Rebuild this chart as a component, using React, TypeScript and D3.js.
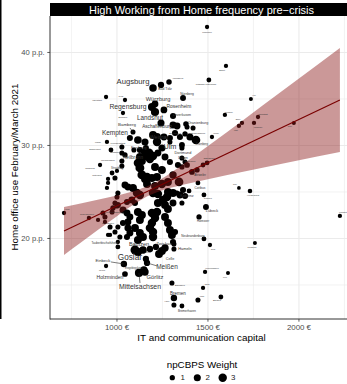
import React from "react";
import * as d3 from "d3";

// ---------- data ----------
// [region, IT and communication capital (€), home office use (p.p.), npCBPS weight]
const labelledRegions: [string, number, number, number][] = [
  ["München", 1495, 42.74, 0.6],
  ["Erfurt", 1599, 38.55, 0.6],
  ["Potsdam-Mittelmark", 1505, 37.04, 0.8],
  ["Landsberg", 1286, 36.83, 1.1],
  ["Augsburg", 1198, 36.18, 2.3],
  ["Bad Tölz", 1242, 36.51, 1.5],
  ["Ingolstadt", 940, 35.21, 0.6],
  ["Jena", 1044, 34.89, 0.6],
  ["Nürnberg", 1363, 35.11, 1.3],
  ["Würzburg", 1209, 34.46, 1.8],
  ["Regensburg", 1192, 34.14, 2.6],
  ["Rosenheim", 1258, 33.82, 1.8],
  ["Erlangen", 1033, 33.49, 0.6],
  ["Leverkusen", 1308, 33.17, 1.4],
  ["Landshut", 1242, 32.42, 2.0],
  ["Hof", 1736, 35.0, 0.5],
  ["Dresden", 1593, 33.28, 0.6],
  ["Darmstadt", 1775, 33.06, 0.6],
  ["Bonn", 1687, 32.42, 0.6],
  ["Köln", 1670, 32.1, 0.6],
  ["Karlsruhe", 1753, 32.42, 0.6],
  ["Trier", 1972, 32.42, 0.5],
  ["Oranienburg", 1379, 32.31, 1.1],
  ["Aschaffenburg", 1308, 32.2, 1.9],
  ["Bamberg", 1088, 31.45, 0.9],
  ["Kempten", 1115, 30.59, 2.4],
  ["Weimar", 1220, 30.38, 3.0],
  ["Ulm", 1247, 29.73, 2.0],
  ["Dortmund", 1357, 30.05, 1.3],
  ["Freiburg", 1093, 29.51, 0.9],
  ["Heilbronn", 1044, 28.98, 1.0],
  ["Lindau", 945, 30.38, 0.6],
  ["Freudenstadt", 1027, 29.84, 0.9],
  ["Schweinfurt", 967, 29.51, 0.8],
  ["Passau", 1027, 29.19, 0.9],
  ["Memmingen", 1027, 28.33, 0.9],
  ["Günzburg", 907, 27.9, 0.6],
  ["Straubing", 973, 27.04, 0.8],
  ["Gütersloh", 951, 26.4, 0.6],
  ["Düren", 1374, 28.22, 0.9],
  ["Cottbus", 1445, 25.97, 0.8],
  ["Plauen", 1478, 24.68, 0.8],
  ["Koblenz", 1330, 24.89, 0.9],
  ["Lübeck", 1489, 23.39, 1.3],
  ["Hannover", 1451, 22.31, 1.0],
  ["Suhl", 1670, 25.43, 0.4],
  ["Heidelberg", 1731, 25.11, 0.7],
  ["Frankfurt", 2225, 22.42, 0.6],
  ["Herne", 709, 22.74, 0.6],
  ["Gelsenkirchen", 846, 22.2, 0.6],
  ["Recklinghausen", 978, 23.28, 1.0],
  ["Oberhausen", 962, 21.24, 0.9],
  ["Neubrandenburg", 1478, 19.95, 0.8],
  ["Gera", 1511, 19.3, 0.6],
  ["Flensburg", 1758, 19.52, 0.5],
  ["Tauberbischofsheim", 1005, 19.09, 0.8],
  ["Bautzen", 1099, 18.76, 3.4],
  ["Zwickau", 1264, 18.98, 2.2],
  ["Hameln", 1313, 18.87, 0.9],
  ["Celle", 1231, 18.33, 2.6],
  ["Peine", 1181, 18.87, 1.6],
  ["Goslar", 1159, 17.8, 1.5],
  ["Meißen", 1165, 17.37, 1.5],
  ["Einbeck", 1038, 17.26, 1.6],
  ["Uelzen", 940, 17.04, 0.6],
  ["Erzgebirgskreis", 1148, 16.61, 2.2],
  ["Mittelsachsen", 1121, 16.29, 2.8],
  ["Görlitz", 1154, 16.4, 2.2],
  ["Holzminden", 1044, 16.18, 1.2],
  ["Balingen", 1302, 15.22, 0.9],
  ["Unna", 1473, 14.68, 0.6],
  ["Wilhelmshaven", 1484, 16.4, 0.6],
  ["Leer", 1610, 16.29, 0.5],
  ["Bremen", 1313, 13.6, 1.6],
  ["Halle", 1313, 12.85, 0.9],
  ["Bremerhaven", 1357, 12.74, 0.8],
  ["Lahr", 1445, 13.39, 0.9],
  ["Emden", 1571, 13.71, 0.8],
  ["Ebersberg", 1374, 31.24, 1.0],
  ["Fürstenfeldbruck", 1401, 30.91, 2.0],
  ["Starnberg", 1434, 30.59, 3.2],
  ["Wesel", 1522, 30.91, 0.6],
  ["Göttingen", 1385, 27.9, 1.2],
  ["Offenburg", 1495, 28.12, 0.8],
  ["Ahrweiler", 1440, 27.37, 1.0],
];

// [IT capital (€), home office (p.p.), weight] for regions without a label
const otherRegions: [number, number, number][] = [
  [1209, 33.6, 2.8], [1385, 31.99, 0.9], [1418, 31.88, 0.9], [1330, 32.1, 1.9],
  [1198, 31.13, 2.6], [1220, 30.91, 2.6], [1258, 30.91, 1.9], [1291, 30.81, 1.4],
  [1319, 31.34, 1.4], [1346, 30.91, 1.4], [1071, 30.81, 1.4], [1154, 30.38, 2.0],
  [1291, 30.38, 0.9], [1357, 29.73, 0.9], [1159, 29.73, 1.4], [1148, 29.3, 1.4],
  [1126, 29.51, 1.4], [1176, 29.19, 3.4], [1165, 28.87, 3.4], [1198, 28.87, 3.0],
  [1126, 28.76, 2.6], [1137, 28.33, 2.6], [1181, 28.55, 3.0], [1225, 29.19, 1.9],
  [1264, 28.76, 1.9], [1291, 28.23, 1.4], [1357, 28.65, 0.9], [1000, 27.26, 0.6],
  [1027, 27.79, 0.9], [1115, 28.12, 3.0], [1126, 27.58, 3.4], [1137, 26.83, 3.4],
  [1165, 26.61, 3.0], [1209, 27.69, 2.6], [1247, 27.37, 2.6], [1220, 26.61, 2.6],
  [1335, 27.9, 1.4], [989, 26.5, 0.9], [951, 25.97, 0.6], [945, 25.43, 0.6],
  [1044, 25.75, 1.9], [1060, 25.54, 1.9], [1088, 25.43, 2.6], [1110, 24.89, 3.0],
  [1126, 24.68, 3.0], [1154, 26.4, 2.6], [1165, 25.86, 2.6], [1192, 26.5, 2.6],
  [1209, 25.64, 2.6], [1247, 25.86, 3.0], [1280, 26.07, 2.6], [1198, 24.89, 3.0],
  [1225, 24.78, 3.0], [1275, 24.46, 3.0], [1253, 24.14, 3.0], [1225, 23.82, 2.6],
  [1280, 25.0, 2.6], [1308, 24.89, 2.6], [1346, 24.68, 1.9], [1363, 25.21, 1.4],
  [1374, 24.57, 1.4], [1264, 23.6, 2.6], [1280, 23.17, 2.6], [1308, 23.82, 1.9],
  [1357, 23.82, 0.9], [1005, 24.89, 0.9], [1000, 24.46, 0.9], [989, 23.82, 0.9],
  [1005, 23.6, 1.4], [1055, 23.92, 1.4], [1082, 24.14, 1.9], [1099, 23.82, 1.4],
  [923, 22.74, 0.9], [1033, 23.06, 1.9], [1055, 22.74, 1.9], [1071, 22.31, 1.9],
  [1060, 21.77, 1.9], [1115, 22.85, 2.6], [1137, 22.53, 2.6], [1126, 21.99, 2.6],
  [1192, 22.74, 3.0], [1220, 22.85, 3.0], [1209, 22.2, 3.0], [1192, 21.67, 3.0],
  [1264, 22.31, 2.6], [1280, 21.67, 2.6], [1291, 20.91, 2.6], [1302, 20.38, 2.6],
  [1005, 21.24, 0.9], [989, 20.7, 0.9], [962, 20.38, 0.6], [1033, 21.67, 1.4],
  [1060, 21.13, 1.9], [1071, 20.59, 1.9], [1055, 20.16, 1.4], [1099, 21.13, 2.6],
  [1126, 20.59, 2.6], [1143, 20.16, 2.6], [1115, 19.84, 2.6], [1181, 21.13, 3.0],
  [1198, 20.7, 3.0], [1198, 20.16, 3.0], [1319, 20.7, 1.4], [1308, 19.62, 1.4],
  [1005, 19.62, 0.6], [951, 20.38, 0.6], [1016, 20.16, 0.9], [896, 21.99, 0.6],
  [934, 21.77, 0.6], [973, 22.85, 0.9], [934, 22.31, 0.9], [1000, 23.5, 1.0],
  [1357, 27.69, 1.0], [1412, 27.15, 1.2], [1473, 27.9, 0.8], [1341, 26.08, 3.2],
  [1308, 26.83, 2.2], [1396, 25.11, 0.8], [1115, 18.55, 3.0], [1143, 18.76, 2.4],
  [1214, 19.09, 1.5], [1247, 18.66, 2.6], [1313, 19.41, 0.9],
];

// weighted linear fit and its confidence band
const fitIT = [709, 2225];
const fitHO = [20.81, 34.89];
const bandIT = [709, 800, 900, 1000, 1100, 1182, 1250, 1350, 1500, 1700, 1900, 2100, 2225];
const bandLow = [18.23, 19.55, 20.98, 22.4, 23.75, 24.66, 25.18, 25.71, 26.38, 27.2, 28.0, 28.8, 29.3];
const bandHigh = [23.39, 23.77, 24.18, 24.62, 25.13, 25.74, 26.48, 27.8, 29.94, 32.83, 35.74, 38.65, 40.48];

const xMajor = [1000, 1500, 2000];
const xMinor = [750, 1250, 1750, 2250];
const yMajor = [20, 30, 40];
const yMinor = [15, 25, 35];
const legendWeights = [1, 2, 3];

const titleText = "High Working from Home frequency pre\u2212crisis";
const xTitle = "IT and communication capital";
const yTitle = "Home office use February/March 2021";
const legendTitle = "npCBPS Weight";

// ---------- label layout (offset from point in px, font size, optional segment end) ----------
const labelLayout: Record<string, number[]> = {
  "München": [0, 5, 2.3], "Erfurt": [-4, 4, 2.3], "Potsdam-Mittelmark": [-3, 4, 2.3],
  "Landsberg": [9, -4, 2.2], "Augsburg": [-20, -6, 7.7], "Bad Tölz": [4, 4, 3.5],
  "Ingolstadt": [-9, 3, 2.2], "Jena": [-4, -4, 2.2], "Nürnberg": [4, -4, 3.3],
  "Würzburg": [3, -5, 5.7], "Regensburg": [-24, 0, 6.8], "Rosenheim": [15, -3, 4.9],
  "Erlangen": [0, 4, 2.2], "Leverkusen": [9, -1, 3.5], "Landshut": [-11, -5, 6.3],
  "Hof": [3, -4, 2], "Dresden": [4, -3, 2], "Darmstadt": [5, -3, 2], "Bonn": [-4, -4, 2],
  "Köln": [-3, 4, 2], "Karlsruhe": [4, 4, 2], "Trier": [-4, 3, 2],
  "Oranienburg": [12, -1, 3.7], "Aschaffenburg": [-16, 2, 4.6], "Bamberg": [-6, -7, 4.4, -3, -4],
  "Kempten": [-23, -7, 6.5], "Weimar": [2, -5, 5.6], "Ulm": [8, -1.5, 7.3],
  "Dortmund": [1, 8, 3.8], "Freiburg": [5, -3, 4.2], "Heilbronn": [8, 3, 4.7],
  "Lindau": [-9, 0, 2], "Freudenstadt": [-4, -3, 2.5], "Schweinfurt": [-16, -1, 2.2],
  "Passau": [-7, 0, 2.5], "Memmingen": [-14, 0, 2.5], "Günzburg": [-10, 3, 2.2],
  "Straubing": [5, -5, 2.8], "Gütersloh": [-11, -4, 2.2], "Düren": [-2, -4, 3.5],
  "Cottbus": [2, 5, 3.2], "Plauen": [4, 4, 2.5], "Koblenz": [10, 3, 3.7],
  "Lübeck": [6, 4, 3.8], "Hannover": [4, 4, 2.8], "Suhl": [-4, -4, 1.8],
  "Heidelberg": [3, 5, 2.5], "Frankfurt": [3, -4, 2], "Herne": [3, -4, 2],
  "Gelsenkirchen": [-2, -4, 2.2], "Recklinghausen": [2, 5, 2.5], "Oberhausen": [-2, -4, 2.2],
  "Neubrandenburg": [-11, -3, 3.1], "Gera": [3, 4, 2], "Flensburg": [-3, 4, 2],
  "Tauberbischofsheim": [-13, -4, 3.0], "Bautzen": [4, -6, 5.5], "Zwickau": [-1, -4, 4.3],
  "Hameln": [11, 0, 3.9], "Celle": [11, 5, 3.7], "Peine": [-2, 4, 2.5],
  "Goslar": [-16, -1, 8.2], "Meißen": [20, 4, 6.5, 10, 3], "Einbeck": [-21, -3, 4.2, -13, -2],
  "Uelzen": [-4, 4, 2], "Erzgebirgskreis": [-10, -1, 2.6], "Mittelsachsen": [1, 14, 6.9, 1, 10],
  "Görlitz": [10, 5, 5.8], "Holzminden": [-15, 3, 5.1], "Balingen": [8, 3, 2.5],
  "Unna": [4, -4, 2], "Wilhelmshaven": [7, -4, 2], "Leer": [-3, 4, 2],
  "Bremen": [4, -4, 4.5], "Halle": [-7, -4, 2.2], "Bremerhaven": [5, 5, 3],
  "Lahr": [4, -4, 2.2], "Emden": [-4, 4, 2.5], "Ebersberg": [-10, 0, 2.5],
  "Fürstenfeldbruck": [6, -3, 2.5], "Starnberg": [6, 4, 2.8], "Wesel": [4, -4, 2],
  "Göttingen": [3, -3, 2.5], "Offenburg": [2, -4, 2.5], "Ahrweiler": [3, 5, 2.8],
};

const FONT = "'Liberation Sans', Arial, Helvetica, sans-serif";

export default function App() {
  const W = 347, H = 384;
  const L = 50, R = 353, T = 16, B = 319;
  const x = d3.scaleLinear().domain([632, 2297]).range([L, R]);
  const y = d3.scaleLinear().domain([11.34, 43.92]).range([B, T]);
  const r = d3.scaleSqrt().domain([0, 3]).range([0.5, 4.22]);

  const bandData = bandIT.map((v, i) => ({ x: v, lo: bandLow[i], hi: bandHigh[i] }));
  const area = d3.area<{ x: number; lo: number; hi: number }>()
    .x((d) => x(d.x)).y0((d) => y(d.lo)).y1((d) => y(d.hi))
    .curve(d3.curveMonotoneX);
  const line = d3.line<number>().x((d) => x(d)).y((d, i) => y(fitHO[i]));

  const allPoints = [
    ...otherRegions.map((p) => ({ it: p[0], ho: p[1], w: p[2] })),
    ...labelledRegions.map((p) => ({ it: p[1], ho: p[2], w: p[3] })),
  ];

  return (
    <svg width={W} height={H} style={{ position: "absolute", left: 0, top: 0, fontFamily: FONT }}>
      <defs>
        <clipPath id="panel">
          <rect x={L} y={T} width={R - L} height={B - T} />
        </clipPath>
      </defs>
      <rect x={0} y={0} width={W} height={H} fill="#fff" />
      <line x1={0.75} x2={0.75} y1={0} y2={B} stroke="#000" strokeWidth={1.5} />

      {/* grid */}
      <g clipPath="url(#panel)">
        {xMinor.map((v) => (
          <line key={"xm" + v} x1={x(v)} x2={x(v)} y1={T} y2={B} stroke="#ebebeb" strokeWidth={0.6} />
        ))}
        {yMinor.map((v) => (
          <line key={"ym" + v} x1={L} x2={R} y1={y(v)} y2={y(v)} stroke="#ebebeb" strokeWidth={0.6} />
        ))}
        {xMajor.map((v) => (
          <line key={"xM" + v} x1={x(v)} x2={x(v)} y1={T} y2={B} stroke="#ebebeb" strokeWidth={1.1} />
        ))}
        {yMajor.map((v) => (
          <line key={"yM" + v} x1={L} x2={R} y1={y(v)} y2={y(v)} stroke="#ebebeb" strokeWidth={1.1} />
        ))}

        {/* points */}
        {allPoints.map((p, i) => (
          <circle key={"p" + i} cx={x(p.it)} cy={y(p.ho)} r={r(p.w)} fill="#000" />
        ))}

        {/* confidence band & fit */}
        <path d={area(bandData) || ""} fill="#8b1a1a" fillOpacity={0.45} />
        <path d={line(fitIT) || ""} fill="none" stroke="#7a0000" strokeWidth={1.2} />

        {/* labels */}
        {labelledRegions.map((p) => {
          const lay = labelLayout[p[0]];
          if (!lay) return null;
          const px = x(p[1]), py = y(p[2]);
          return (
            <g key={"l" + p[0]}>
              {lay.length > 3 && (
                <line x1={px} y1={py} x2={px + lay[3]} y2={py + lay[4]} stroke="#222" strokeWidth={0.6} />
              )}
              <text x={px + lay[0]} y={py + lay[1]} fontSize={lay[2]} fill="#333"
                textAnchor="middle" dominantBaseline="central">{p[0]}</text>
            </g>
          );
        })}
      </g>

      {/* panel border */}
      <line x1={L} x2={L} y1={T} y2={B + 0.5} stroke="#333" strokeWidth={1} />
      <line x1={L} x2={R} y1={B} y2={B} stroke="#333" strokeWidth={1} />

      {/* strip */}
      <rect x={L} y={3} width={R - L} height={T - 3} fill="#000" />
      <text x={(L + R) / 2} y={9.6} fill="#fff" fontSize={11} textAnchor="middle" dominantBaseline="central">
        {titleText}
      </text>

      {/* axes */}
      {xMajor.map((v) => (
        <g key={"xt" + v}>
          <line x1={x(v)} x2={x(v)} y1={B} y2={B + 2.7} stroke="#333" strokeWidth={0.8} />
          <text x={x(v)} y={327.3} fontSize={7.9} fill="#4d4d4d" textAnchor="middle" dominantBaseline="central">
            {`${v} €`}
          </text>
        </g>
      ))}
      {yMajor.map((v) => (
        <g key={"yt" + v}>
          <line x1={L - 2.7} x2={L} y1={y(v)} y2={y(v)} stroke="#333" strokeWidth={0.8} />
          <text x={44.6} y={y(v)} fontSize={7.6} fill="#4d4d4d" textAnchor="end" dominantBaseline="central">
            {`${v} p.p.`}
          </text>
        </g>
      ))}
      <text x={(L + R) / 2} y={337.8} fontSize={9.9} fill="#000" textAnchor="middle" dominantBaseline="central">
        {xTitle}
      </text>
      <text transform={`translate(14,${(T + B) / 2 - 0.5}) rotate(-90)`} fontSize={9.8} fill="#000"
        textAnchor="middle" dominantBaseline="central">{yTitle}</text>

      {/* legend */}
      <text x={202} y={364} fontSize={9.8} fill="#000" textAnchor="middle" dominantBaseline="central">
        {legendTitle}
      </text>
      {legendWeights.map((w, i) => {
        const cx = [172.3, 197.3, 222.7][i];
        return (
          <g key={"lg" + w}>
            <circle cx={cx} cy={377.7} r={r(w)} fill="#000" />
            <text x={cx + 10.5} y={377.7} fontSize={7.9} fill="#1a1a1a" textAnchor="middle" dominantBaseline="central">
              {w}
            </text>
          </g>
        );
      })}
    </svg>
  );
}
